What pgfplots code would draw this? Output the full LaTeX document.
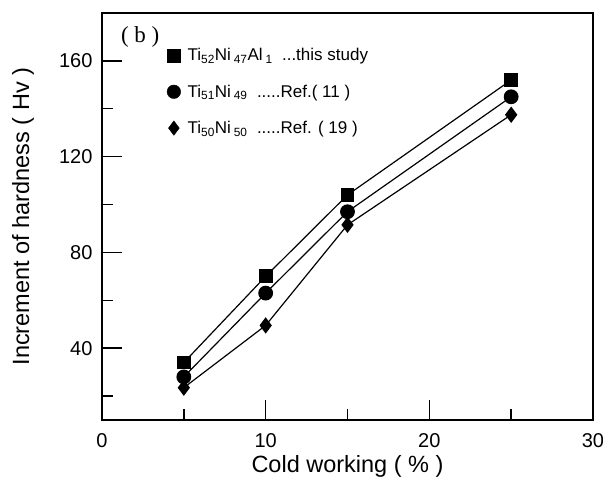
\documentclass[border=0pt]{standalone}
\usepackage{fontspec}
\setmainfont{Liberation Sans}
\newfontfamily\seriffont{Liberation Serif}
\usepackage{pgfplots}
\pgfplotsset{compat=1.18}
\begin{document}
\begin{tikzpicture}
\begin{axis}[
  scale only axis, width=491pt, height=407pt,
  xmin=0, xmax=30, ymin=10, ymax=180,
  xtick={0,10,20,30}, minor xtick={5,15,25},
  ytick={40,80,120,160}, minor ytick={20,60,100,140},
  tick align=inside, tick pos=left,
  major tick length=20pt, minor tick length=11pt,
  every tick/.append style={line width=1.4pt},
  major tick style={black, line width=1.4pt},
  minor tick style={black, line width=1.4pt},
  axis line style={line width=1.3pt},
  ticklabel style={font=\fontsize{20}{21}\selectfont},
  xticklabel style={yshift=-10pt},
  yticklabel style={xshift=-6pt},
  /pgf/number format/assume math mode=true,
  xlabel={Cold working ( \% )}, ylabel={Increment of hardness ( Hv )},
  every axis x label/.style={at={(axis description cs:0.5,-0.113)}, anchor=center, font=\fontsize{23.5}{25}\selectfont},
  every axis y label/.style={at={(axis description cs:-0.161,0.5)}, rotate=90, anchor=center, font=\fontsize{23.5}{25}\selectfont},
  legend style={draw=none, fill=none, at={(0.126,0.923)}, anchor=north west,
    font=\fontsize{17}{18}\selectfont, row sep=18.5pt},
  legend cell align=left,
  clip=false,
]
\addlegendimage{only marks, black, mark=square*, mark size=6.3pt}
\addlegendentry{\hspace{5pt}Ti\textsubscript{52}Ni\,\textsubscript{47}Al\,\textsubscript{1} \ ...this study}
\addlegendimage{only marks, black, mark=*, mark size=6.8pt}
\addlegendentry{\hspace{5pt}Ti\textsubscript{51}Ni\,\textsubscript{49} \ .....Ref.( 11 )}
\addlegendimage{only marks, black, mark=diamond*, mark size=7.2pt}
\addlegendentry{\hspace{5pt}Ti\textsubscript{50}Ni\,\textsubscript{50} \ .....Ref. ( 19 )}
\addplot[black, line width=1.2pt, mark=square*, mark size=6.3pt, forget plot]
  coordinates {(5,34) (10,70) (15,104) (25,152)};
\addplot[black, line width=1.2pt, mark=*, mark size=6.8pt, forget plot]
  coordinates {(5,28) (10,63) (15,97) (25,145)};
\addplot[black, line width=1.2pt, mark=diamond*, mark size=7.2pt, forget plot]
  coordinates {(5,23.5) (10,49.5) (15,91.5) (25,137.5)};
\node[anchor=north west, font=\seriffont\fontsize{23}{25}\selectfont] at (axis cs:0.95,175.8) {( b )};
\end{axis}
\pgfresetboundingbox
\path[use as bounding box] (current axis.south west) ++(-102pt,-60pt) rectangle ++(603pt,480pt);
\end{tikzpicture}
\end{document}
